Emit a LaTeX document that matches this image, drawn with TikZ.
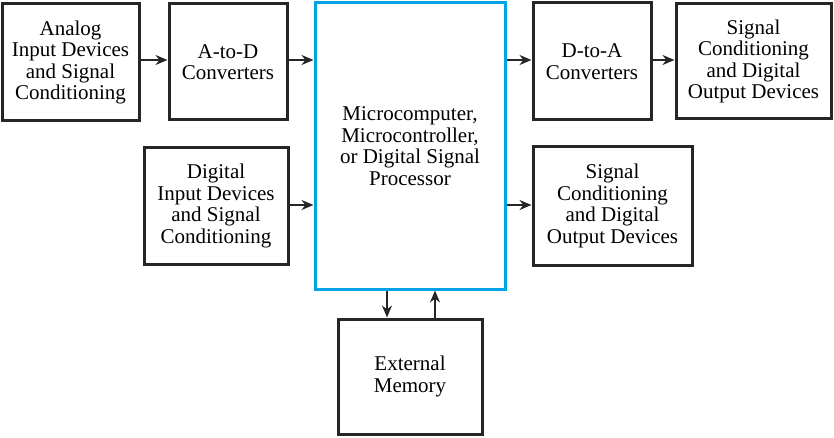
\documentclass[tikz,border=0pt]{standalone}
\usepackage{fontspec}
\setmainfont{Liberation Serif}
\usetikzlibrary{arrows.meta}
\definecolor{boxblue}{RGB}{0,164,228}
\begin{document}
\begin{tikzpicture}[x=1pt,y=-1pt,
  blk/.style={draw=black!85,line width=3pt,rectangle,inner sep=0pt,align=center,
    font=\fontsize{21}{21.5}\selectfont,fill=white},
  mainblk/.style={blk,draw=boxblue,line width=3pt},
  arr/.style={line width=2.6pt,draw=black!85,-{Stealth[length=12pt,width=10pt]}}]
\useasboundingbox (0,0) rectangle (834,438);
\node[blk,minimum width=137pt,minimum height=117pt] (b1) at (70.5,62.5) {Analog\\Input Devices\\and Signal\\Conditioning};
\node[blk,minimum width=118pt,minimum height=116pt] (b2) at (228,62) {A-to-D\\Converters};
\node[mainblk,minimum width=190pt,minimum height=286pt] (mc) at (410,146) {Microcomputer,\\Microcontroller,\\or Digital Signal\\Processor};
\node[blk,minimum width=118pt,minimum height=117pt] (b4) at (592,61.5) {D-to-A\\Converters};
\node[blk,minimum width=155pt,minimum height=115pt] (b5) at (753.5,61.5) {Signal\\Conditioning\\and Digital\\Output Devices};
\node[blk,minimum width=144pt,minimum height=116pt] (b6) at (216,206) {Digital\\Input Devices\\and Signal\\Conditioning};
\node[blk,minimum width=159pt,minimum height=118pt] (b7) at (612.5,206) {Signal\\Conditioning\\and Digital\\Output Devices};
\node[blk,minimum width=144pt,minimum height=115pt] (b8) at (410,376.5) {External\\Memory};
\draw[arr] (b1.east |- 0,60) -- (b2.west |- 0,60);
\draw[arr] (b2.east |- 0,60) -- (mc.west |- 0,60);
\draw[arr] (mc.east |- 0,60) -- (b4.west |- 0,60);
\draw[arr] (b4.east |- 0,60) -- (b5.west |- 0,60);
\draw[arr] (b6.east |- 0,205) -- (mc.west |- 0,205);
\draw[arr] (mc.east |- 0,205) -- (b7.west |- 0,205);
\draw[arr] (mc.south -| 387,0) -- (b8.north -| 387,0);
\draw[arr] (b8.north -| 435,0) -- (mc.south -| 435,0);
\end{tikzpicture}
\end{document}
